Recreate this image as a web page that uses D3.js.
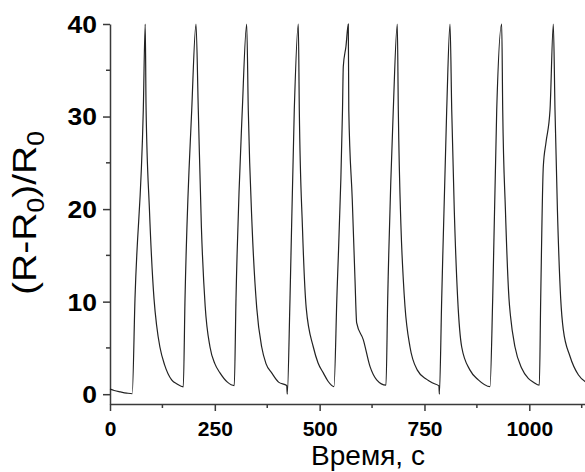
<!DOCTYPE html>
<html>
<head>
<meta charset="utf-8">
<script src="https://cdn.jsdelivr.net/npm/d3@7"></script>
<style>
  html, body { margin: 0; padding: 0; background: #fff; }
  svg { display: block; }
</style>
</head>
<body>
<svg id="chart" width="585" height="472"></svg>
<script>
// ---- data ----
const time = [
  0, 10, 25, 40, 53, 59.6, 79.4, 84, 86, 94, 105, 111, 119, 130, 147, 160, 174.8,
  178.9, 194.9, 205.1, 210.6, 218, 227, 238.5, 250, 262.3, 280, 296.4,
  300.5, 315.5, 326, 329.8, 339, 350, 361.8, 372, 385.6, 402, 421.5, 422.8,
  429.3, 439.5, 449.1, 451.5, 459, 468, 484.9, 496, 508.7, 520, 534.2,
  541, 554.5, 556.4, 562.8, 568.3, 569.5, 577.8, 584.3, 588.3, 604, 620, 636, 658.2,
  662.3, 675.6, 685.2, 687.6, 694, 699.5, 703.5, 715.5, 733, 755.3, 770, 784.5, 785.5,
  791.1, 803, 810.9, 815, 821, 829.2, 838.8, 858.6, 878.4, 906.3,
  912.7, 922.3, 934.2, 936.6, 943, 951.6, 955, 965.9, 981.9, 997.6, 1010, 1023.9,
  1027.2, 1033.4, 1039.8, 1049.4, 1057.3, 1061.3, 1067, 1074.9, 1081, 1097, 1116.9, 1133, 1140
];
const response = [
  0.55, 0.40, 0.25, 0.12, 0.05, 10.3, 30.7, 40, 31, 20, 10.3, 7.5, 5.1, 3.2, 1.55, 1.1, 0.8,
  10.3, 30.7, 40, 30.7, 18, 9.5, 5.1, 3.3, 2.3, 1.3, 0.93,
  10.3, 30.7, 40, 30.7, 18, 9.3, 5.1, 3.3, 2.3, 1.3, 0.93, 0.0,
  10.3, 30.7, 40, 30.7, 18, 9.3, 5.1, 3.4, 2.3, 1.4, 0.82,
  10.3, 30.7, 35.4, 37.6, 40, 30.7, 21, 12.4, 7.7, 5.9, 3.0, 1.55, 0.97,
  10.3, 30.7, 40, 30.7, 18, 12.4, 9.5, 5.1, 2.6, 1.6, 1.2, 0.9, 0.0,
  10.3, 30.7, 40, 30.7, 20, 10.3, 5.1, 2.6, 1.55, 0.82,
  10.3, 30.7, 40, 30.7, 20, 10.3, 8.5, 5.1, 2.8, 1.7, 1.3, 0.97,
  10.3, 24.6, 27.2, 30.7, 40, 30.7, 20, 10.3, 7, 4.1, 2.1, 1.37, 1.2
];
const xTicks = [0, 250, 500, 750, 1000];
const xMinorTicks = [125, 375, 625, 875, 1125];
const yTicks = [0, 10, 20, 30, 40];
const yMinorTicks = [5, 15, 25, 35];
const xTitle = "Время, с";

// ---- layout ----
const svg = d3.select("#chart");
const x = d3.scaleLinear().domain([0, 1140]).range([110, 588]);
const y = d3.scaleLinear().domain([-1.06, 40]).range([404, 24]);
const axisColor = "#3a3a3a";
const font = "Arial, 'Liberation Sans', sans-serif";

const gx = svg.append("g").attr("transform", "translate(0,404)");
gx.call(d3.axisBottom(x).tickValues(xTicks).tickFormat(d3.format("d"))
  .tickSize(7).tickSizeOuter(0).tickPadding(10));
gx.selectAll(".minor").data(xMinorTicks).enter().append("line")
  .attr("class", "minor").attr("x1", d => x(d)).attr("x2", d => x(d))
  .attr("y1", 0).attr("y2", 4);

const gy = svg.append("g").attr("transform", "translate(110,0)");
gy.call(d3.axisLeft(y).tickValues(yTicks).tickFormat(d3.format("d"))
  .tickSize(7).tickSizeOuter(0).tickPadding(6));
gy.selectAll(".minor").data(yMinorTicks).enter().append("line")
  .attr("class", "minor").attr("y1", d => y(d)).attr("y2", d => y(d))
  .attr("x1", 0).attr("x2", -4);

[gx, gy].forEach(g => {
  g.select(".domain").attr("stroke", axisColor).attr("stroke-width", 1.5);
  g.selectAll("line").attr("stroke", axisColor).attr("stroke-width", 1.5);
  g.selectAll("text").attr("fill", "#000").style("font-family", font)
    .style("font-weight", "bold");
});
gx.selectAll(".tick text").style("font-size", "21px");
// y tick labels: slightly wider glyphs, right edge kept at x = 97
gy.selectAll(".tick text")
  .style("font-size", "23px")
  .attr("x", 0)
  .attr("transform", "translate(-13,1) scale(1.15,1)");

// data line
const pts = time.map((t, i) => [t, response[i]]);
svg.append("path")
  .datum(pts)
  .attr("fill", "none")
  .attr("stroke", "#222")
  .attr("stroke-width", 1.2)
  .attr("d", d3.line().x(d => x(d[0])).y(d => y(d[1])).curve(d3.curveMonotoneX));

// x title
svg.append("text")
  .attr("x", 368).attr("y", 465)
  .attr("text-anchor", "middle")
  .style("font-family", font).style("font-size", "28px").attr("fill", "#000")
  .text(xTitle);

// y title (R-R0)/R0
const yt = svg.append("text")
  .attr("transform", "translate(36,213) rotate(-90) scale(1.15,1)")
  .attr("text-anchor", "middle")
  .style("font-family", font).style("font-size", "34px").attr("fill", "#000");
yt.append("tspan").text("(R-R");
yt.append("tspan").text("0").style("font-size", "23px").attr("dy", 8);
yt.append("tspan").text(")/R").attr("dy", -8);
yt.append("tspan").text("0").style("font-size", "23px").attr("dy", 8);
</script>
</body>
</html>
